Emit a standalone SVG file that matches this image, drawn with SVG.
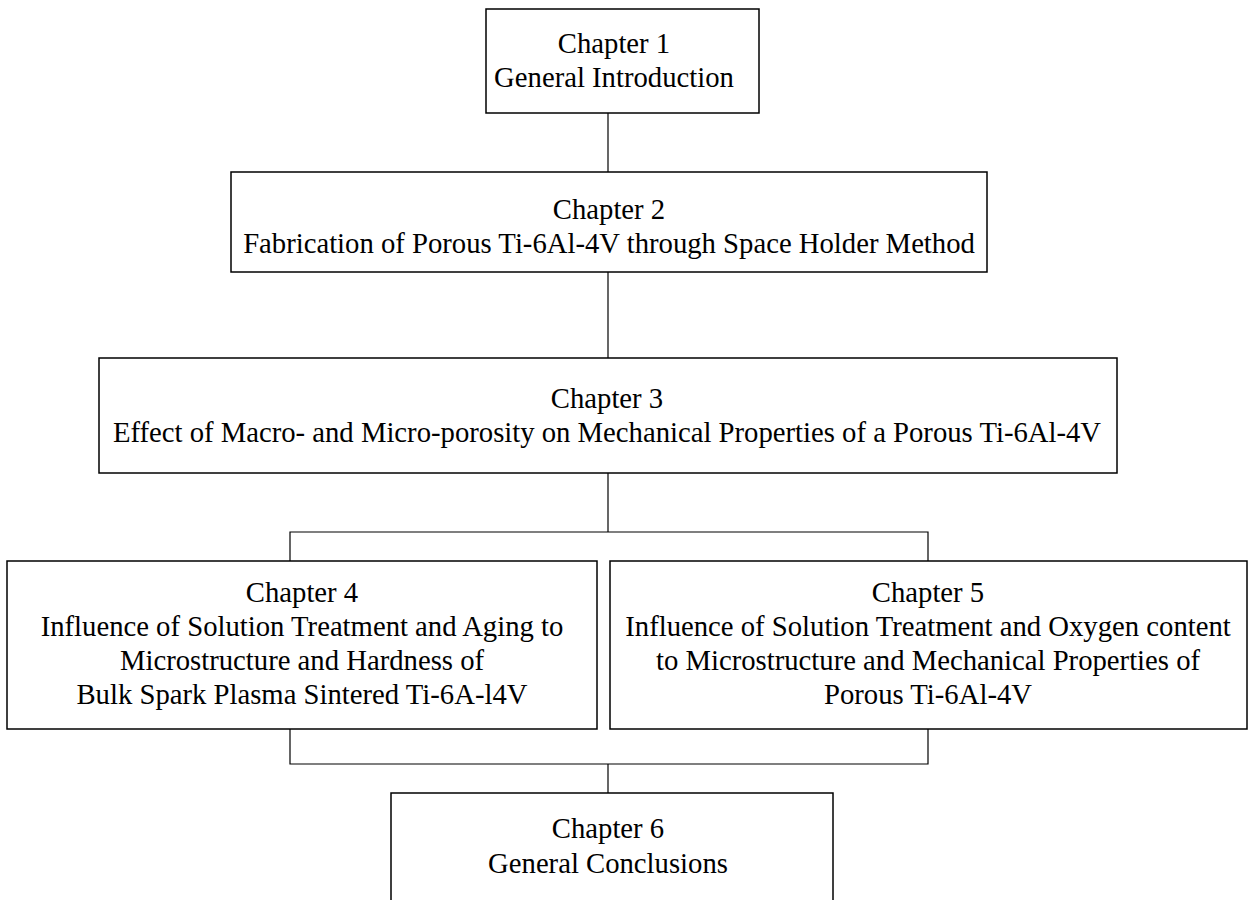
<svg xmlns="http://www.w3.org/2000/svg" width="1254" height="900" viewBox="0 0 1254 900">
<style>
.box{fill:#fff;stroke:#000;stroke-width:1.5}
.conn{fill:none;stroke:#000;stroke-width:1.2}
text{font-family:"Liberation Serif","Times New Roman",serif;font-size:28.7px;fill:#000;text-anchor:middle}
</style>
<rect width="1254" height="900" fill="#fff"/>
<g id="connectors">
<line class="conn" x1="608" y1="113" x2="608" y2="172"/>
<line class="conn" x1="608" y1="272" x2="608" y2="358"/>
<line class="conn" x1="608" y1="473" x2="608" y2="532"/>
<polyline class="conn" points="290,561 290,532 928,532 928,561"/>
<polyline class="conn" points="290,729 290,764 928,764 928,729"/>
<line class="conn" x1="608" y1="764" x2="608" y2="793"/>
</g>
<g id="ch1">
<rect class="box" x="486" y="9" width="273" height="104"/>
<text x="614" y="53">Chapter 1</text>
<text x="614" y="87">General Introduction</text>
</g>
<g id="ch2">
<rect class="box" x="231" y="172" width="756" height="100"/>
<text x="609" y="219">Chapter 2</text>
<text x="609" y="253">Fabrication of Porous Ti-6Al-4V through Space Holder Method</text>
</g>
<g id="ch3">
<rect class="box" x="99" y="358" width="1018" height="115"/>
<text x="607" y="408">Chapter 3</text>
<text x="607" y="442">Effect of Macro- and Micro-porosity on Mechanical Properties of a Porous Ti-6Al-4V</text>
</g>
<g id="ch4">
<rect class="box" x="7" y="561" width="590" height="168"/>
<text x="302" y="602">Chapter 4</text>
<text x="302" y="636">Influence of Solution Treatment and Aging to</text>
<text x="302" y="670">Microstructure and Hardness of</text>
<text x="302" y="704">Bulk Spark Plasma Sintered Ti-6A-l4V</text>
</g>
<g id="ch5">
<rect class="box" x="610" y="561" width="637" height="168"/>
<text x="928" y="602">Chapter 5</text>
<text x="928" y="636">Influence of Solution Treatment and Oxygen content</text>
<text x="928" y="670">to Microstructure and Mechanical Properties of</text>
<text x="928" y="704">Porous Ti-6Al-4V</text>
</g>
<g id="ch6">
<rect class="box" x="391" y="793" width="442" height="120"/>
<text x="608" y="838">Chapter 6</text>
<text x="608" y="873">General Conclusions</text>
</g>
</svg>
